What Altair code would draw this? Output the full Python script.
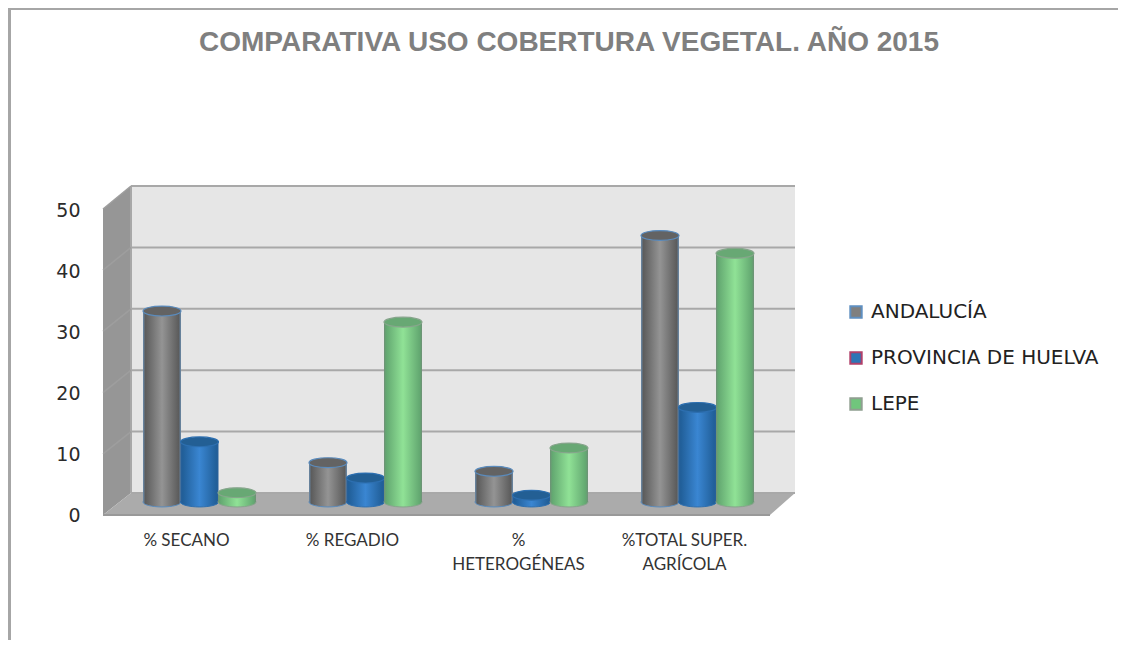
import altair as alt
import pandas as pd

title = "COMPARATIVA USO COBERTURA VEGETAL. AÑO 2015"
categories = ["% SECANO", "% REGADIO", "%|HETEROGÉNEAS", "%TOTAL SUPER.|AGRÍCOLA"]
series = ["ANDALUCÍA", "PROVINCIA DE HUELVA", "LEPE"]
andalucia = [31.1, 6.4, 5.0, 43.4]
huelva = [9.8, 3.9, 1.1, 15.4]
lepe = [1.5, 29.3, 8.8, 40.5]
ticks = [0, 10, 20, 30, 40, 50]

values = {"ANDALUCÍA": andalucia, "PROVINCIA DE HUELVA": huelva, "LEPE": lepe}
df = pd.DataFrame(
    [{"cat": c, "serie": s, "v": values[s][i]} for s in series for i, c in enumerate(categories)]
)
tick_df = pd.DataFrame({"t": ticks})

W, H = 1110, 632
def px(v):
    return v - 8

# --- scales
x_scale = alt.Scale(type="band", domain=categories, range=[px(116.5), px(780.5)], paddingInner=0, paddingOuter=0)
off_scale = alt.Scale(type="band", domain=series, range=[26.75, 139.25], paddingInner=0, paddingOuter=0)
y_scale = alt.Scale(domain=[0, 50], range=[px(502), px(195)], nice=False, zero=False)
wall_y = alt.Scale(domain=[0, 50], range=[px(493), px(186)], nice=False, zero=False)
axis_y = alt.Scale(domain=[0, 50], range=[px(515), px(210)], nice=False, zero=False)
axis_x = alt.Scale(type="band", domain=categories, range=[px(103.5), px(767.5)], paddingInner=0, paddingOuter=0)
frame_x = alt.Scale(domain=[0, W], range=[0, W], nice=False, zero=False)
frame_y = alt.Scale(domain=[0, H], range=[0, H], nice=False, zero=False)


def grad(edge, dark, light):
    return alt.LinearGradient(
        gradient="linear", x1=0, x2=1, y1=0, y2=0,
        stops=[
            alt.GradientStop(color=edge, offset=0),
            alt.GradientStop(color=dark, offset=0.06),
            alt.GradientStop(color=light, offset=0.5),
            alt.GradientStop(color=dark, offset=0.94),
            alt.GradientStop(color=edge, offset=1),
        ],
    )


styles = {
    "ANDALUCÍA": dict(g=grad("#6a8cad", "#5c5c5c", "#949494"), cap="#636363", line="#5a8bbd"),
    "PROVINCIA DE HUELVA": dict(g=grad("#2a6099", "#215f99", "#3a86d2"), cap="#235f94", line="#2d6fb0"),
    "LEPE": dict(g=grad("#6f9077", "#63a871", "#90e296"), cap="#68a874", line="#87a58c"),
}
ELLIPSE = (
    "M-1,0 C-1,-0.145 -0.55,-0.26 0,-0.26 C0.55,-0.26 1,-0.145 1,0 "
    "C1,0.145 0.55,0.26 0,0.26 C-0.55,0.26 -1,0.145 -1,0 Z"
)
BAR_W = 38

layers = []

# --- outer frame
frame = "#a6a6a6"
layers.append(alt.Chart(tick_df.head(1)).mark_rect(color=frame).encode(
    x=alt.value(0), x2=alt.value(3), y=alt.value(0), y2=alt.value(H)))
layers.append(alt.Chart(tick_df.head(1)).mark_rect(color=frame).encode(
    x=alt.value(0), x2=alt.value(W), y=alt.value(0), y2=alt.value(2)))

# --- 3D box: side wall, floor, back wall
side = pd.DataFrame({"x": [px(103), px(131)], "top": [px(209), px(186)], "bot": [px(515), px(493)]})
layers.append(alt.Chart(side).mark_area(color="#969696", orient="vertical").encode(
    x=alt.X("x:Q", scale=frame_x, axis=None),
    y=alt.Y("top:Q", scale=frame_y, axis=None),
    y2="bot:Q"))
floor = pd.DataFrame({
    "x": [px(103), px(131), px(770), px(795)],
    "top": [px(515), px(493), px(493), px(493)],
    "bot": [px(515), px(515), px(515), px(493)],
})
layers.append(alt.Chart(floor).mark_area(color="#ababab", orient="vertical").encode(
    x=alt.X("x:Q", scale=frame_x, axis=None),
    y=alt.Y("top:Q", scale=frame_y, axis=None),
    y2="bot:Q"))
layers.append(alt.Chart(tick_df.head(1)).mark_rect(color="#e6e6e6").encode(
    x=alt.value(px(131)), x2=alt.value(px(795)), y=alt.value(px(186)), y2=alt.value(px(493))))
layers.append(alt.Chart(tick_df).mark_rule(color="#a8a8a8", strokeWidth=2).encode(
    x=alt.value(px(131)), x2=alt.value(px(795)),
    y=alt.Y("t:Q", scale=wall_y, axis=None)))
layers.append(alt.Chart(tick_df.head(1)).mark_rule(color="#a8a8a8", strokeWidth=2).encode(
    x=alt.value(px(131)), x2=alt.value(px(131)), y=alt.value(px(186)), y2=alt.value(px(493))))
layers.append(alt.Chart(tick_df.head(1)).mark_rule(color="#999999", strokeWidth=2).encode(
    x=alt.value(px(103)), x2=alt.value(px(770)), y=alt.value(px(515)), y2=alt.value(px(515))))
# side wall grid lines
for t in ticks[1:]:
    frac = t / 50
    seg = pd.DataFrame({
        "x": [px(103), px(131)],
        "y": [px(515 - frac * 306), px(493 - frac * 307)],
    })
    layers.append(alt.Chart(seg).mark_line(color="#9e9e9e", strokeWidth=1.5).encode(
        x=alt.X("x:Q", scale=frame_x, axis=None),
        y=alt.Y("y:Q", scale=frame_y, axis=None)))

# --- cylinders
for s in series:
    st = styles[s]
    d = df[df.serie == s]
    pos = dict(
        x=alt.X("cat:N", scale=x_scale, axis=None, sort=categories),
        xOffset=alt.XOffset("serie:N", scale=off_scale, sort=series),
    )
    layers.append(alt.Chart(d).mark_point(
        shape=ELLIPSE, size=BAR_W ** 2, filled=True, fill=st["g"], stroke=st["line"], strokeWidth=1, opacity=1
    ).encode(y=alt.Y(datum=0, scale=y_scale, axis=None), **pos))
    layers.append(alt.Chart(d).mark_bar(width=BAR_W, fill=st["g"]).encode(
        y=alt.Y("v:Q", scale=y_scale, axis=None), y2=alt.Y2(datum=0), **pos))
    layers.append(alt.Chart(d).mark_point(
        shape=ELLIPSE, size=BAR_W ** 2, filled=True, fill=st["cap"], stroke=st["line"], strokeWidth=1.2, opacity=1
    ).encode(y=alt.Y("v:Q", scale=y_scale, axis=None), **pos))

# --- axes
layers.append(alt.Chart(tick_df).mark_point(opacity=0).encode(
    y=alt.Y("t:Q", scale=axis_y, title=None, axis=alt.Axis(
        values=ticks, orient="left", offset=-px(80), grid=False, domain=False, ticks=False,
        labelPadding=0, labelFont="DejaVu Sans", labelFontSize=19, labelColor="#2b2b2b"))))
layers.append(alt.Chart(pd.DataFrame({"cat": categories})).mark_point(opacity=0).encode(
    x=alt.X("cat:N", scale=axis_x, sort=categories, title=None, axis=alt.Axis(
        orient="bottom", offset=px(532) - H, grid=False, domain=False, ticks=False,
        labelPadding=0, labelAngle=0, labelFont="Lato", labelFontSize=17, labelColor="#333333",
        labelExpr="split(datum.label, '|')", labelLineHeight=24, labelBaseline="top",
        labelOverlap=False, labelFlush=False, labelBound=False))))

# --- legend
layers.append(alt.Chart(df).transform_filter("false").mark_square(size=144).encode(
    fill=alt.Fill("serie:N", scale=alt.Scale(domain=series, range=["#7f7f7f", "#2e75b6", "#70c67c"]),
                  legend=alt.Legend(
                      title=None, orient="none", legendX=px(846), legendY=px(302),
                      symbolType="square", symbolSize=130, symbolStrokeWidth=2, symbolOpacity=1,
                      labelFont="DejaVu Sans", labelFontSize=20, labelColor="#222222",
                      labelOffset=5, rowPadding=26, labelLimit=300)),
    stroke=alt.Stroke("serie:N", scale=alt.Scale(domain=series, range=["#5f8fc0", "#b0406a", "#8f9f90"]), legend=None),
))

chart = alt.layer(*layers).resolve_scale(x="independent", y="independent", xOffset="independent").properties(
    width=W, height=H, padding=0,
    title=alt.TitleParams(title, anchor="start", offset=-49, dx=px(199), font="Liberation Sans", fontSize=28,
                          fontWeight="bold", color="#7f7f7f"),
).configure_view(stroke=None)

chart.save("out.html", embed_options={"renderer": "svg", "actions": False})
